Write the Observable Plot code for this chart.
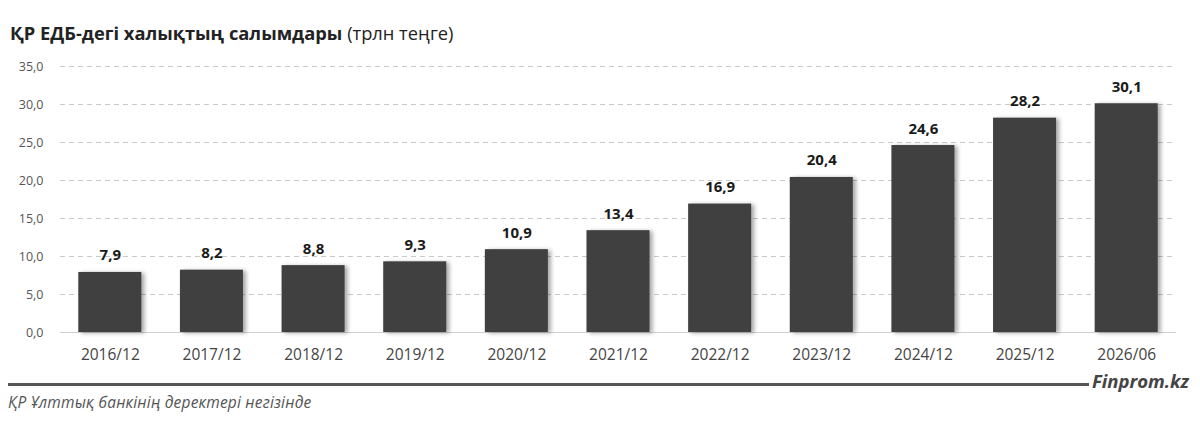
<!DOCTYPE html>
<html>
<head>
<meta charset="utf-8">
<script src="https://cdn.jsdelivr.net/npm/d3@7"></script>
<script src="https://cdn.jsdelivr.net/npm/@observablehq/plot@0.6"></script>
<style>
  body { margin: 0; background: #fff; font-family: "Open Sans", sans-serif; }
  #wrap { position: relative; width: 1200px; height: 422px; overflow: hidden; }
  #title { position: absolute; left: 10px; top: 20px; font-size: 18.3px; color: #222; white-space: nowrap; }
  #title b { font-weight: 700; }
  #chart { position: absolute; left: 0; top: 52px; }
  #rule { position: absolute; left: 8px; top: 383px; width: 1081px; height: 3px; background: #555; }
  #brand { position: absolute; left: 1092px; top: 368px; font-size: 18.5px; font-weight: 700; font-style: italic; color: #444; }
  #source { position: absolute; left: 8px; top: 391px; font-size: 15.5px; font-style: italic; color: #555; letter-spacing: 0.2px; }
</style>
</head>
<body>
<div id="wrap">
  <div id="title"><b>ҚР ЕДБ-дегі халықтың салымдары</b> (трлн теңге)</div>
  <div id="chart"></div>
  <div id="rule"></div>
  <div id="brand">Finprom.kz</div>
  <div id="source">ҚР Ұлттық банкінің деректері негізінде</div>
</div>
<script>
const periods = ["2016/12","2017/12","2018/12","2019/12","2020/12","2021/12","2022/12","2023/12","2024/12","2025/12","2026/06"];
const values = [7.9, 8.2, 8.8, 9.3, 10.9, 13.4, 16.9, 20.4, 24.6, 28.2, 30.1];
const yTicks = [0, 5, 10, 15, 20, 25, 30, 35];

const data = periods.map((p, i) => ({period: p, value: values[i]}));
const fmt = v => d3.format(".1f")(v).replace(".", ",");

const chart = Plot.plot({
  width: 1200,
  height: 322,
  marginLeft: 60,
  marginRight: 24,
  marginTop: 14,
  marginBottom: 42,
  style: {fontFamily: "Open Sans, sans-serif", background: "#fff"},
  x: {domain: periods, paddingInner: 0.38, paddingOuter: 0.18, round: false, label: null},
  y: {domain: [0, 35], label: null},
  marks: [
    Plot.ruleY(yTicks.filter(d => d > 0), {stroke: "#c8c8c8", strokeDasharray: "5,4", strokeWidth: 1}),
    Plot.ruleY([0], {stroke: "#d0d0d0", strokeWidth: 1.2}),
    Plot.barY(data, {x: "period", y: "value", fill: "#404040", imageFilter: "drop-shadow(3px 1px 2px rgba(0,0,0,0.35))"}),
    Plot.text(data, {x: "period", y: "value", text: d => fmt(d.value), lineAnchor: "bottom", dy: -12, fontSize: 15, fontWeight: 700, fill: "#1a1a1a"}),
    Plot.axisY({ticks: yTicks, tickSize: 0, tickPadding: 17, tickFormat: fmt, fontSize: 12.5, color: "#555", label: null}),
    Plot.axisX({tickSize: 0, tickPadding: 16, fontSize: 15.5, color: "#444", label: null})
  ]
});
document.getElementById("chart").appendChild(chart);
</script>
</body>
</html>
